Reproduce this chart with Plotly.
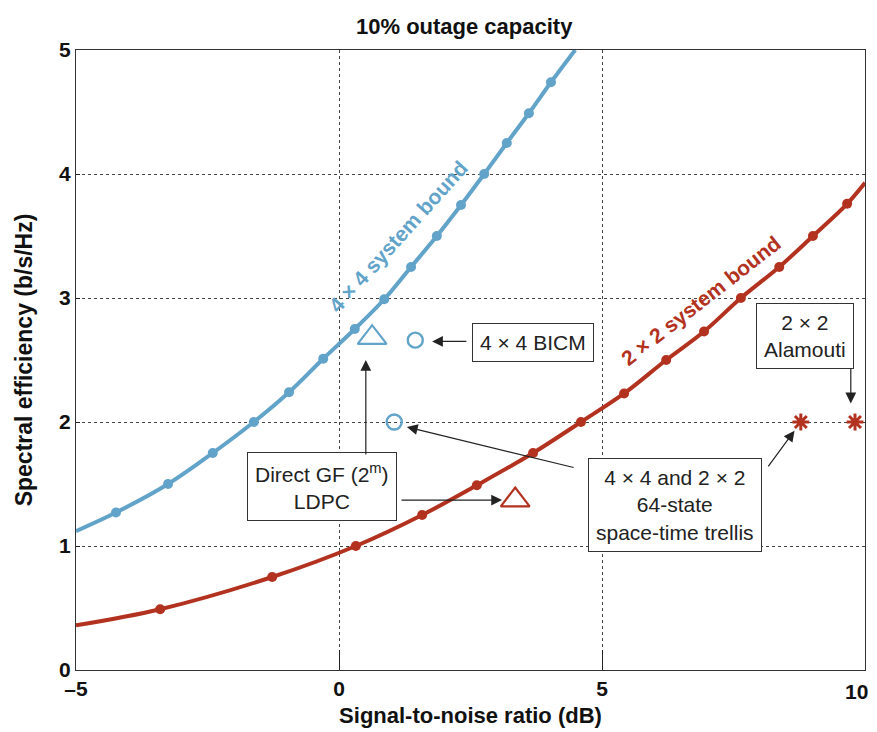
import plotly.graph_objects as go

BLUE = "#62a3c9"
RED = "#b3321f"
FONT = "Liberation Sans"

# 4x4 system bound: line points and marker points
bound4_x = [-5.0, -4.24, -3.25, -2.40, -1.62, -0.95, -0.30, 0.30, 0.86, 1.37,
            1.86, 2.32, 2.76, 3.19, 3.61, 4.03, 4.49]
bound4_y = [1.12, 1.27, 1.50, 1.75, 2.00, 2.24, 2.51, 2.75, 2.99, 3.25,
            3.50, 3.75, 4.00, 4.25, 4.49, 4.74, 5.00]

# 2x2 system bound
bound2_x = [-5.0, -3.40, -1.27, 0.32, 1.58, 2.62, 3.69, 4.60, 5.42, 6.22,
            6.94, 7.64, 8.37, 9.01, 9.66, 10.0]
bound2_y = [0.36, 0.49, 0.75, 1.00, 1.25, 1.49, 1.75, 2.00, 2.23, 2.50,
            2.73, 3.00, 3.25, 3.50, 3.76, 3.93]

# simulated schemes
ldpc_x = [0.63, 3.35]
ldpc_y = [2.68, 1.37]
bicm_x = [1.45]
bicm_y = [2.66]
trellis_x = [1.05]
trellis_y = [2.00]
alamouti_x = [8.78, 9.81]
alamouti_y = [2.00, 2.00]

x_ticks = [-5, 0, 5, 10]
x_ticklabels = ["–5", "0", "5", "10"]
y_ticks = [0, 1, 2, 3, 4, 5]

fig = go.Figure()

for xs, ys, col in [(bound4_x, bound4_y, BLUE), (bound2_x, bound2_y, RED)]:
    fig.add_trace(go.Scatter(x=xs, y=ys, mode="lines", line=dict(color=col, width=4, shape="spline"),
                             hoverinfo="skip"))
    fig.add_trace(go.Scatter(x=xs[1:-1], y=ys[1:-1], mode="markers",
                             marker=dict(color=col, size=10)))

fig.add_trace(go.Scatter(x=ldpc_x, y=ldpc_y, mode="markers",
                         marker=dict(symbol="triangle-up-open", size=25, color=[BLUE, RED],
                                     line=dict(width=2.2, color=[BLUE, RED]))))
fig.add_trace(go.Scatter(x=bicm_x + trellis_x, y=bicm_y + trellis_y, mode="markers",
                         marker=dict(symbol="circle-open", size=15, color=BLUE,
                                     line=dict(width=2.4, color=BLUE))))
fig.add_trace(go.Scatter(x=alamouti_x, y=alamouti_y, mode="markers",
                         marker=dict(symbol="asterisk-open", size=14, color=RED,
                                     line=dict(width=3, color=RED))))

# boxed labels
boxes = [
    (3.69, 2.645, "4 × 4 BICM"),
    (-0.32, 1.476, "Direct GF (2<sup>m</sup>)<br>LDPC"),
    (6.39, 1.33, "4 × 4 and 2 × 2<br>64-state<br>space-time trellis"),
    (8.86, 2.69, "2 × 2<br>Alamouti"),
]
for bx, by, txt in boxes:
    fig.add_annotation(x=bx, y=by, text=txt, showarrow=False,
                       font=dict(family=FONT, size=21, color="#222"),
                       bordercolor="#333", borderwidth=1, borderpad=7, bgcolor="white")

# arrows: (tail x, tail y, head x, head y)
arrows = [
    (2.45, 2.65, 1.77, 2.65),
    (0.51, 1.726, 0.51, 2.50),
    (1.16, 1.37, 3.10, 1.37),
    (4.49, 1.63, 1.29, 1.96),
    (8.14, 1.63, 8.66, 1.93),
    (9.73, 2.44, 9.73, 2.15),
]
for tx, ty, hx, hy in arrows:
    fig.add_annotation(x=hx, y=hy, ax=tx, ay=ty, axref="x", ayref="y", xref="x", yref="y",
                       text="", showarrow=True, arrowhead=2, arrowsize=1.8, arrowwidth=1.2,
                       arrowcolor="#222", standoff=0)

# curve labels
fig.add_annotation(x=1.12, y=3.50, text="<b>4 × 4 system bound</b>", showarrow=False,
                   textangle=-48, font=dict(family=FONT, size=21, color=BLUE))
fig.add_annotation(x=6.88, y=2.98, text="<b>2 × 2 system bound</b>", showarrow=False,
                   textangle=-38, font=dict(family=FONT, size=21, color=RED))

# the last x tick label sits at the page edge, so it is placed by hand, nudged left
fig.add_annotation(x=x_ticks[-1], y=0, xref="x", yref="y", yanchor="top", xanchor="center",
                   xshift=-9, yshift=-8, showarrow=False,
                   text="<b>%s</b>" % x_ticklabels[-1], font=dict(family=FONT, size=21, color="#111"))

axis_common = dict(showline=True, linecolor="#333", linewidth=1, mirror=True,
                   showgrid=True, gridcolor="#444", griddash="dot", gridwidth=1,
                   zeroline=False, ticks="inside", tickcolor="#222", automargin=False,
                   tickfont=dict(family=FONT, size=21, color="#111"))

fig.update_xaxes(range=[-5, 10], tickvals=x_ticks,
                 ticktext=["<b>%s</b>" % t for t in x_ticklabels[:-1]] + [""],
                 ticklen=20,
                 title=dict(text="<b>Signal-to-noise ratio (dB)</b>", standoff=8,
                            font=dict(family=FONT, size=22, color="#111")),
                 **axis_common)
fig.update_yaxes(range=[0, 5], tickvals=y_ticks,
                 ticktext=["<b>%d</b>" % v for v in y_ticks], ticklen=4,
                 title=dict(text="<b>Spectral efficiency (b/s/Hz)</b>", standoff=20,
                            font=dict(family=FONT, size=23, color="#111")),
                 **axis_common)

# page body has an 8px margin, so the figure is sized to the remaining area
fig.update_layout(
    width=869, height=724,
    margin=dict(l=68, r=12, t=42, b=62),
    paper_bgcolor="white", plot_bgcolor="white",
    showlegend=False,
    title=dict(text="<b>10% outage capacity</b>", x=0.525, xanchor="center", y=0.985, yanchor="top",
               font=dict(family=FONT, size=22, color="#111")),
)

fig.write_html("out.html")
